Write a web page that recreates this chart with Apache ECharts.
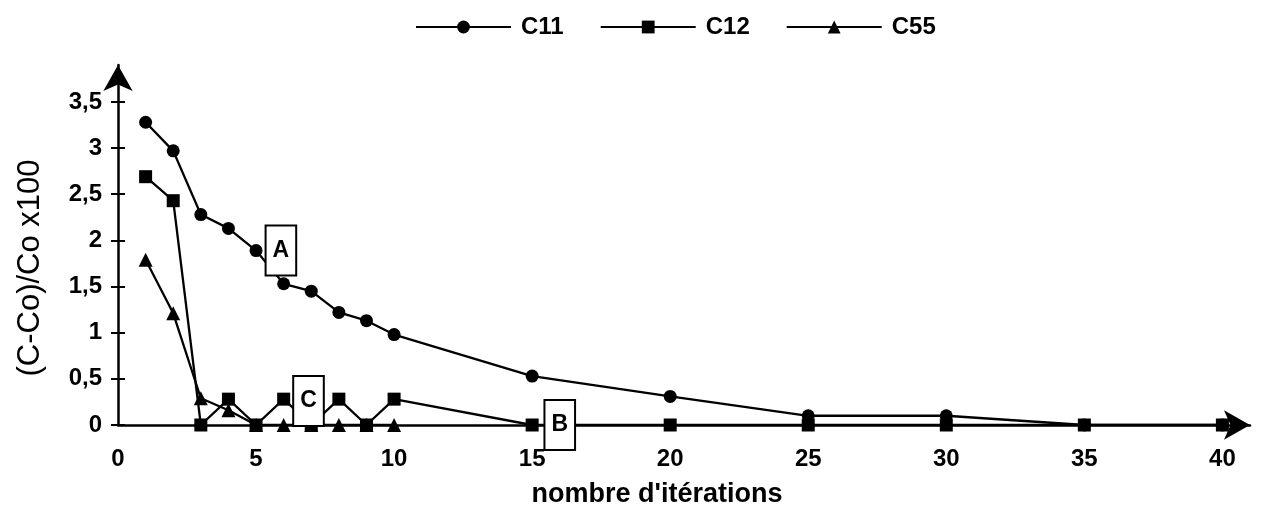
<!DOCTYPE html>
<html>
<head>
<meta charset="utf-8">
<script src="https://cdn.jsdelivr.net/npm/echarts@6/dist/echarts.min.js"></script>
<style>html,body{margin:0;padding:0;background:#fff}#c{width:1269px;height:528px}</style>
</head>
<body>
<div id="c"></div>
<script>
const iterations = [1,2,3,4,5,6,7,8,9,10,15,20,25,30,35,40];
const c11 = [3.28,2.97,2.28,2.13,1.89,1.53,1.45,1.22,1.13,0.98,0.53,0.31,0.10,0.10,0,0];
const c12 = [2.69,2.43,0,0.28,0,0.28,0,0.28,0,0.28,0,0,0,0,0,0];
const c55 = [1.79,1.21,0.29,0.16,0,0,0,0,0,0];
const xTicks = [0,5,10,15,20,25,30,35,40];
const yTicks = [0,0.5,1,1.5,2,2.5,3,3.5];
const annoText = ['A','C','B'];
const annoX = [5.9, 6.9, 16.0];
const annoY = [1.89, 0.26, 0];

const FONT = '"Liberation Sans", Arial, sans-serif';
const pairs = (ys) => ys.map((y, i) => [iterations[i], y]);
const comma = (v) => String(v).replace('.', ',');

const chart = echarts.init(document.getElementById('c'), null, {renderer: 'canvas'});
const lineStyle = {color: '#000', width: 2.3};
const mk = (name, data, symbol, size) => ({
  name, type: 'line', data, symbol, symbolSize: size,
  lineStyle, itemStyle: {color: '#000'}, z: 3
});
chart.setOption({
  animation: false,
  backgroundColor: '#fff',
  textStyle: {fontFamily: FONT, color: '#000'},
  legend: {
    top: 10, left: 410,
    itemWidth: 95, itemHeight: 16, itemGap: 36,
    textStyle: {fontFamily: FONT, fontSize: 24, fontWeight: 'bold', color: '#000', padding: [0, 0, 0, 5]},
    data: ['C11','C12','C55']
  },
  grid: {left: 118, right: 19, top: 65, bottom: 103},
  xAxis: {
    type: 'value', min: 0, max: 41,
    name: "nombre d'itérations", nameLocation: 'middle', nameGap: 56,
    nameTextStyle: {fontFamily: FONT, fontSize: 27, fontWeight: 'bold', color: '#000', padding: [0, 54, 0, 0]},
    axisLine: {show: true, lineStyle: {color: '#000', width: 2.5}, symbol: ['none','arrow'], symbolSize: [22, 26]},
    axisTick: {show: false},
    splitLine: {show: false},
    axisLabel: {customValues: xTicks, margin: 22, fontFamily: FONT, fontSize: 24, fontWeight: 'bold', color: '#000'}
  },
  yAxis: [{
    type: 'value', min: 0, max: 3.9,
    name: '(C-Co)/Co x100', nameLocation: 'middle', nameGap: 72, nameRotate: 90,
    nameTextStyle: {fontFamily: FONT, fontSize: 31, color: '#000', padding: [0, 46, 0, 0]},
    axisLine: {show: true, lineStyle: {color: '#000', width: 2.5}, symbol: ['none','arrow'], symbolSize: [22, 26]},
    axisTick: {show: true, customValues: yTicks, length: 7, lineStyle: {color: '#000', width: 2}},
    splitLine: {show: false},
    axisLabel: {customValues: yTicks, margin: 16, formatter: comma, fontFamily: FONT, fontSize: 24, fontWeight: 'bold', color: '#000'}
  }, {
    type: 'value', min: 0, max: 3.9, position: 'left', offset: 0,
    axisLine: {show: false},
    axisTick: {show: true, inside: true, customValues: yTicks, length: 7, lineStyle: {color: '#000', width: 2}},
    axisLabel: {show: false}, splitLine: {show: false}
  }],
  series: [
    mk('C11', pairs(c11), 'circle', 13),
    mk('C12', pairs(c12), 'rect', 13),
    mk('C55', pairs(c55), 'triangle', 14),
    {
      type: 'scatter', symbolSize: 0, z: 10, silent: true,
      itemStyle: {color: '#fff', opacity: 1},
      emphasis: {disabled: true},
      data: annoText.map((t, i) => ({value: [annoX[i], annoY[i]], name: t})),
      label: {
        show: true, position: 'inside', formatter: (p) => p.name,
        fontFamily: FONT, fontSize: 23, fontWeight: 'bold', color: '#000', opacity: 1,
        backgroundColor: '#fff', borderColor: '#000', borderWidth: 2,
        padding: [13, 6, 12, 6]
      }
    }
  ]
});
</script>
</body>
</html>
